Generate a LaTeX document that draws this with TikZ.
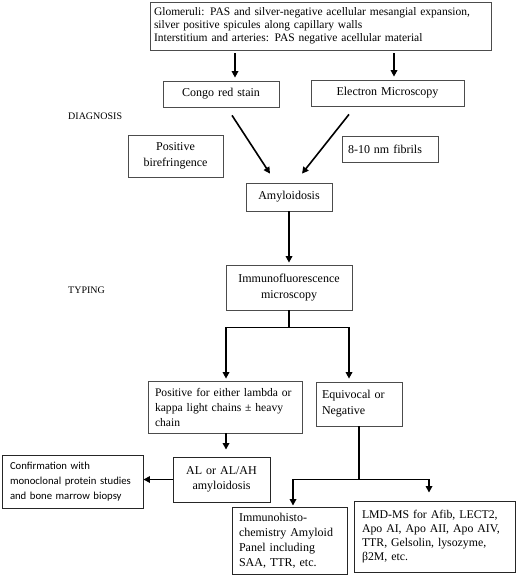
\documentclass[tikz,border=0pt]{standalone}
\usepackage{fontspec}
\setmainfont{Liberation Serif}
\newfontfamily\carlito{Carlito}
\usetikzlibrary{arrows.meta,calc}
\begin{document}
\begin{tikzpicture}[x=1pt,y=-1pt,
  bx/.style={draw=black!70, line width=0.75pt, inner ysep=0pt, inner xsep=0pt, align=center,
    font=\fontsize{12}{15}\selectfont},
  bxd/.style={bx, draw=black!85, line width=0.9pt},
  arr/.style={line width=1.6pt, -{Triangle[length=6.5pt,width=6.5pt]}},
  ln/.style={line width=1.6pt},
  lab/.style={anchor=west, inner sep=0pt, font=\fontsize{10}{12}\selectfont}]
\path[use as bounding box, fill=white] (0,0) rectangle (520,577);

% nodes
\node[bx, text width=333, inner xsep=4, minimum height=48, align=left,
  font=\fontsize{11.5}{12.8}\selectfont] (top) at (320.5,26)
  {\makebox[333pt][s]{Glomeruli: PAS and silver-negative acellular mesangial expansion,}\\
   silver positive spicules along capillary walls\\
   Interstitium and arteries: PAS negative acellular material};
\node[bx, text width=116, minimum height=26] (congo) at (221,94) {Congo red stain};
\node[bx, text width=153, minimum height=26] (em) at (387.5,93) {Electron Microscopy};
\node[lab] (diag) at (68,116) {DIAGNOSIS};
\node[bx, text width=95, minimum height=42, font=\fontsize{12}{16}\selectfont] (biref) at (175.5,156) {Positive\\birefringence};
\node[bx, text width=84, inner xsep=6, minimum height=26, align=left] (fib) at (390,149) {8-10 nm fibrils};
\node[bx, text width=86, minimum height=28] (amyl) at (289,197) {Amyloidosis};
\node[lab] (typ) at (68,290) {TYPING};
\node[bx, text width=126, minimum height=45, font=\fontsize{12}{16}\selectfont] (immuno) at (289,287.5) {Immunofluorescence\\microscopy};
\node[bx, text width=144, inner xsep=5, minimum height=52, align=left, font=\fontsize{11.6}{15}\selectfont] (pos) at (225,407)
  {\hspace*{2pt}Positive for either lambda or\\\hspace*{2pt}kappa light chains ± heavy\\\hspace*{2pt}chain};
\node[bx, text width=74, inner xsep=6, minimum height=44, align=left, font=\fontsize{12}{16}\selectfont] (equiv) at (359,404)
  {Equivocal or\\Negative};
\node[bxd, text width=97, minimum height=45] (al) at (221.5,479.5) {AL or AL/AH\\amyloidosis};
\node[bxd, text width=129, inner xsep=6, minimum height=53, align=left, font=\carlito\fontsize{10.7}{15}\selectfont] (conf) at (72.5,481.5)
  {\hspace*{2pt}Confirmation with\\\hspace*{2pt}monoclonal protein studies\\\hspace*{2pt}and bone marrow biopsy};
\node[bxd, text width=105, inner xsep=5, minimum height=67, align=left] (ihc) at (289.5,540.5)
  {\hspace*{2pt}Immunohisto-\\\hspace*{2pt}chemistry Amyloid\\\hspace*{2pt}Panel including\\\hspace*{2pt}SAA, TTR, etc.};
\node[bxd, text width=149, inner xsep=6, minimum height=71, align=left, font=\fontsize{11.8}{14}\selectfont] (lmd) at (434.5,536.5)
  {\hspace*{2pt}LMD-MS for Afib, LECT2,\\\hspace*{2pt}Apo AI, Apo AII, Apo AIV,\\\hspace*{2pt}TTR, Gelsolin, lysozyme,\\\hspace*{2pt}β2M, etc.};

% helper x positions
\coordinate (xa) at (235,0);
\coordinate (xb) at (394,0);
\coordinate (xc) at (349,0);
\coordinate (xd) at (293,0);
\coordinate (xe) at (429,0);
\coordinate (xf) at (226,0);

% connectors
\draw[arr, shorten <=3pt, shorten >=3pt] (top.south -| xa) -- (congo.north -| xa);
\draw[arr, shorten <=3pt, shorten >=3pt] (top.south -| xb) -- (em.north -| xb);
\draw[arr] ([shift={(11,8)}]congo.south) -- ([shift={(-19,-9)}]amyl.north);
\draw[arr] ([shift={(-38.5,8)}]em.south) -- ([shift={(13,-9)}]amyl.north);
\draw[arr, shorten >=2pt] (amyl.south) -- (immuno.north);
\draw[arr, shorten >=2pt] (immuno.south) -- ++(0,17) coordinate (b1) -| (pos.north -| xf);
\draw[arr, shorten >=3pt] (b1) -| (equiv.north -| xc);
\draw[arr, shorten >=7pt] (pos.south -| xf) -- (al.north -| xf);
\draw[arr] (al.west) -- (al.west -| conf.east);
\draw[ln] (equiv.south) -- ++(0,53) coordinate (b2);
\draw[arr, shorten >=1pt] (b2) -| (ihc.north -| xd);
\draw[arr, shorten >=8pt] (b2) -| (lmd.north -| xe);
\end{tikzpicture}
\end{document}
